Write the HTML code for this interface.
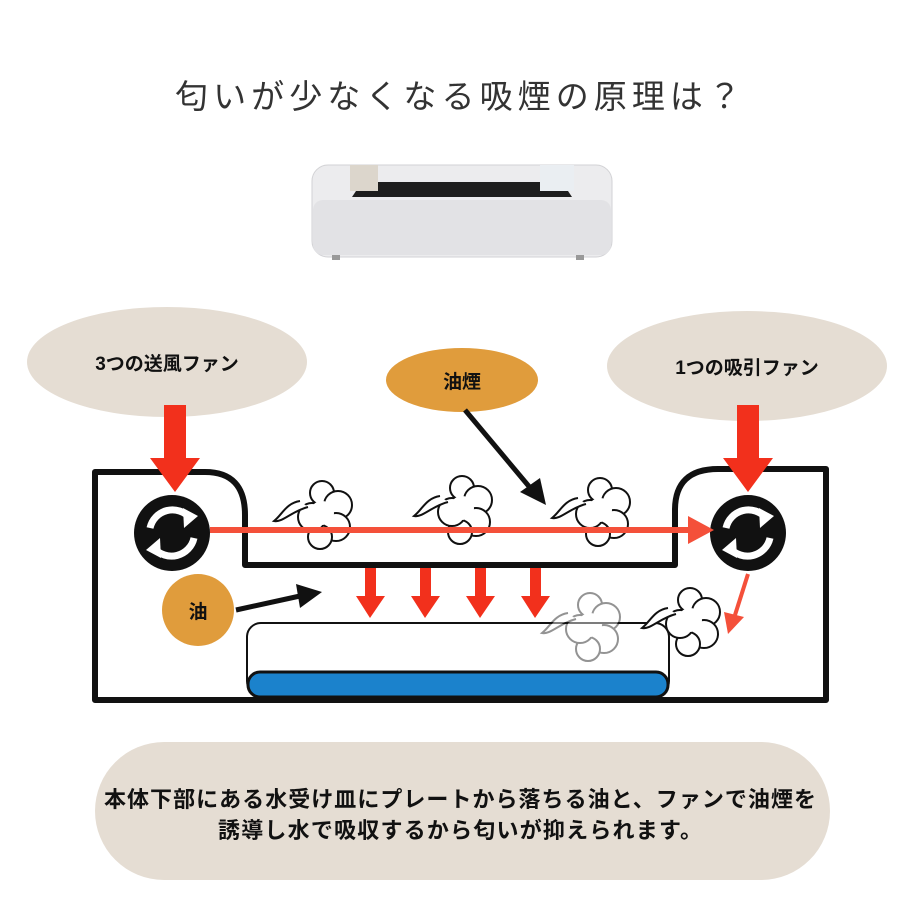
<!DOCTYPE html>
<html><head><meta charset="utf-8"><style>
body{margin:0;background:#fff;width:920px;height:920px;overflow:hidden}
svg{display:block}
text{font-family:"Liberation Sans","Noto Sans CJK JP",sans-serif}
</style></head><body>
<svg width="920" height="920" viewBox="0 0 920 920" xmlns="http://www.w3.org/2000/svg">
<defs>
<g id="cloud" fill="#fff" stroke="#111" stroke-width="2">
<circle cx="0" cy="-20" r="12"/><circle cx="16" cy="-8" r="14"/><circle cx="14" cy="14" r="14"/><circle cx="-2" cy="24" r="12"/><circle cx="-10" cy="4" r="14"/><circle cx="0" cy="0" r="12" stroke="none"/>
<path d="M-14 -6 C-30 -2 -40 10 -48 8 C-40 2 -36 -10 -22 -12" fill="#fff"/>
</g>
</defs>
<text x="458" y="108" font-size="33" fill="#333" text-anchor="middle" textLength="566">匂いが少なくなる吸煙の原理は？</text>

<!-- device -->
<rect x="312" y="165" width="300" height="92" rx="16" fill="#ececee" stroke="#d2d2d5"/>
<rect x="313" y="200" width="298" height="55" rx="10" fill="#e2e2e5"/>
<path d="M352 197 L362 182 L562 182 L572 197 Z" fill="#1e1e1e"/>
<rect x="350" y="165" width="28" height="26" fill="#dcd6cc"/>
<rect x="540" y="165" width="34" height="26" fill="#eaeef2"/>
<rect x="332" y="255" width="8" height="5" fill="#999"/><rect x="576" y="255" width="8" height="5" fill="#999"/>

<!-- ellipses -->
<ellipse cx="167" cy="362" rx="140" ry="55" fill="#e5ddd3"/>
<text x="167" y="370" font-size="19" font-weight="bold" text-anchor="middle" fill="#111">3つの送風ファン</text>
<ellipse cx="747" cy="366" rx="140" ry="55" fill="#e5ddd3"/>
<text x="747" y="374" font-size="19" font-weight="bold" text-anchor="middle" fill="#111">1つの吸引ファン</text>
<ellipse cx="462" cy="380" rx="76" ry="32" fill="#e09c3c"/>
<text x="462" y="388" font-size="19" font-weight="bold" text-anchor="middle" fill="#111">油煙</text>

<!-- box -->
<path d="M95 472 L205 472 Q245 472 245 515 L245 565 L675 565 L675 510 Q675 469 718 469 L826 469 L826 700 L95 700 Z" fill="none" stroke="#111" stroke-width="6" stroke-linejoin="round"/>

<!-- clouds -->
<use href="#cloud" x="322" y="513"/>
<use href="#cloud" x="462" y="508"/>
<use href="#cloud" x="600" y="510"/>

<!-- tray -->
<rect x="247" y="623" width="422" height="72" rx="14" fill="#fff" stroke="#111" stroke-width="2"/>
<rect x="248" y="672" width="420" height="25" rx="12" fill="#1b82cc" stroke="#111" stroke-width="3"/>
<g opacity="0.45"><use href="#cloud" x="590" y="625"/></g>
<use href="#cloud" x="690" y="620"/>

<!-- fans -->
<g>
<circle cx="172" cy="533" r="38" fill="#111"/>
<path d="M150 528 A23 23 0 0 1 190 518" fill="none" stroke="#fff" stroke-width="7"/>
<path d="M183 508 L198 516 L184 528 Z" fill="#fff"/>
<path d="M194 538 A23 23 0 0 1 154 548" fill="none" stroke="#fff" stroke-width="7"/>
<path d="M161 558 L146 550 L160 538 Z" fill="#fff"/>
<circle cx="748" cy="533" r="38" fill="#111"/>
<path d="M726 528 A23 23 0 0 1 766 518" fill="none" stroke="#fff" stroke-width="7"/>
<path d="M759 508 L774 516 L760 528 Z" fill="#fff"/>
<path d="M770 538 A23 23 0 0 1 730 548" fill="none" stroke="#fff" stroke-width="7"/>
<path d="M737 558 L722 550 L736 538 Z" fill="#fff"/>
</g>

<!-- red arrows -->
<g fill="#f2301c">
<rect x="164" y="405" width="22" height="55"/><path d="M150 458 L200 458 L175 492 Z"/>
<rect x="737" y="405" width="22" height="55"/><path d="M723 458 L773 458 L748 492 Z"/>
<rect x="210" y="527" width="480" height="6" fill="#f4503a"/><path d="M688 516 L714 530 L688 544 Z" fill="#f4503a"/>
<rect x="365" y="568" width="11" height="30"/><path d="M356 596 L385 596 L370 618 Z"/>
<rect x="420" y="568" width="11" height="30"/><path d="M411 596 L440 596 L425 618 Z"/>
<rect x="475" y="568" width="11" height="30"/><path d="M466 596 L495 596 L480 618 Z"/>
<rect x="530" y="568" width="11" height="30"/><path d="M521 596 L550 596 L535 618 Z"/>
<line x1="748" y1="574" x2="735" y2="615" stroke="#f4503a" stroke-width="4"/><path d="M724 612 L744 617 L728 634 Z" fill="#f4503a"/>
</g>

<!-- black arrows -->
<line x1="465" y1="410" x2="532" y2="490" stroke="#111" stroke-width="5"/>
<path d="M520 492 L546 505 L540 478 Z" fill="#111"/>
<ellipse cx="198" cy="610" rx="36" ry="36" fill="#e09c3c"/>
<text x="198" y="618" font-size="19" font-weight="bold" text-anchor="middle" fill="#111">油</text>
<line x1="236" y1="610" x2="300" y2="596" stroke="#111" stroke-width="5"/>
<path d="M296 584 L322 592 L300 608 Z" fill="#111"/>

<!-- bottom pill -->
<rect x="95" y="742" width="735" height="138" rx="69" fill="#e5ddd3"/>
<text x="460" y="807" font-size="22" font-weight="bold" text-anchor="middle" fill="#111" textLength="712">本体下部にある水受け皿にプレートから落ちる油と、ファンで油煙を</text>
<text x="460" y="838" font-size="22" font-weight="bold" text-anchor="middle" fill="#111" textLength="484">誘導し水で吸収するから匂いが抑えられます。</text>
</svg>
</body></html>
